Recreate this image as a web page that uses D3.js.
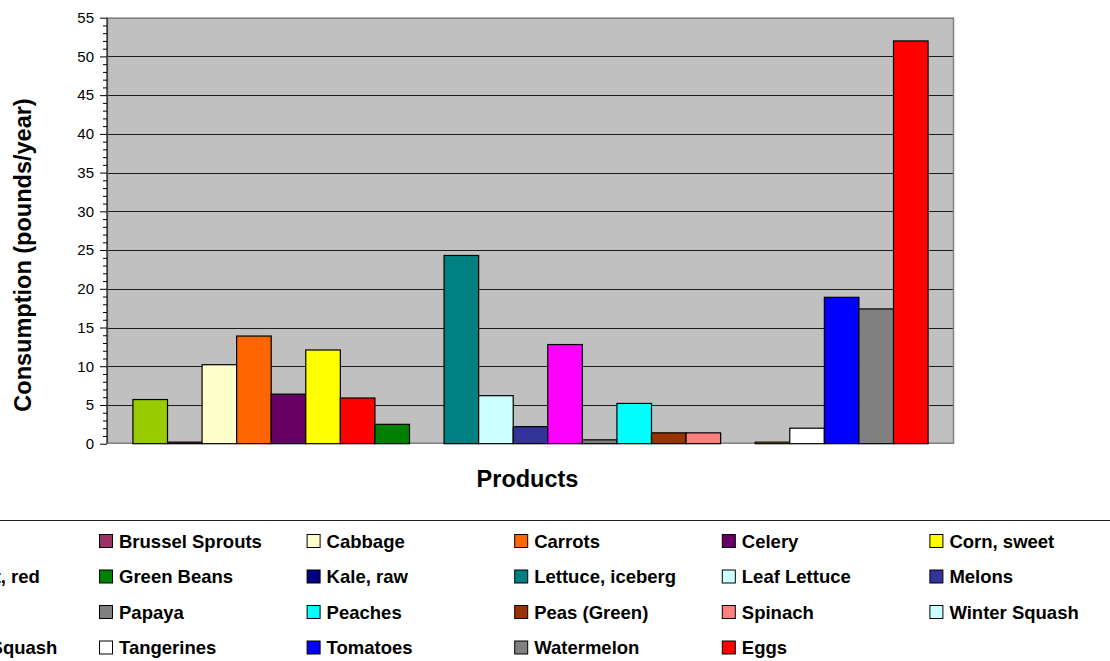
<!DOCTYPE html>
<html>
<head>
<meta charset="utf-8">
<script src="https://cdn.jsdelivr.net/npm/d3@7"></script>
<style>
  html, body { margin: 0; padding: 0; background: #fff; overflow: hidden; }
  svg { display: block; font-family: Arial, "Liberation Sans", sans-serif; }
</style>
</head>
<body>
<svg id="chart" width="1110" height="661"></svg>
<script>
// ---- data ----
const products = ["Broccoli", "Brussel Sprouts", "Cabbage", "Carrots", "Celery", "Corn, sweet",
  "Grapefruit, red", "Green Beans", "Kale, raw", "Lettuce, iceberg", "Leaf Lettuce", "Melons",
  "Onions", "Papaya", "Peaches", "Peas (Green)", "Spinach", "Winter Squash",
  "Summer Squash", "Tangerines", "Tomatoes", "Watermelon", "Eggs"];
const consumption = [5.7, 0.2, 10.2, 13.9, 6.4, 12.1,
  5.9, 2.5, null, 24.3, 6.2, 2.2,
  12.8, 0.5, 5.2, 1.4, 1.4, null,
  0.2, 2.0, 18.9, 17.4, 52.0];
const colors = ["#99CC00", "#993366", "#FFFFCC", "#FF6600", "#660066", "#FFFF00",
  "#FF0000", "#008000", "#000080", "#008080", "#CCFFFF", "#333399",
  "#FF00FF", "#808080", "#00FFFF", "#993300", "#FF8080", "#CCFFFF",
  "#FFCC00", "#FFFFFF", "#0000FF", "#808080", "#FF0000"];
const yTicks = [0, 5, 10, 15, 20, 25, 30, 35, 40, 45, 50, 55];
const yTitle = "Consumption (pounds/year)";
const xTitle = "Products";

// ---- layout ----
const svg = d3.select("#chart");
const plot = { left: 107, right: 954, top: 17.7, bottom: 443.7 };

const x = d3.scaleBand().domain(products)
  .range([plot.left, plot.right]).paddingInner(0).paddingOuter(0.75);
const y = d3.scaleLinear().domain([0, 55]).range([plot.bottom, plot.top]);
const color = d3.scaleOrdinal().domain(products).range(colors);

// plot background
svg.append("rect")
  .attr("x", plot.left).attr("y", plot.top)
  .attr("width", plot.right - plot.left).attr("height", plot.bottom - plot.top)
  .attr("fill", "#C0C0C0");

// gridlines
svg.append("g").selectAll("line").data(yTicks.filter(d => d > 0 && d < 55)).join("line")
  .attr("x1", plot.left).attr("x2", plot.right)
  .attr("y1", d => Math.round(y(d)) + 0.5).attr("y2", d => Math.round(y(d)) + 0.5)
  .attr("stroke", "#000").attr("stroke-width", 1).attr("opacity", 0.85);

// plot border
svg.append("rect")
  .attr("x", plot.left + 0.5).attr("y", plot.top + 0.5)
  .attr("width", plot.right - plot.left - 1).attr("height", plot.bottom - plot.top - 1)
  .attr("fill", "none").attr("stroke", "#808080").attr("stroke-width", 1.5);

// bars
const data = products.map((p, i) => ({ name: p, value: consumption[i] }));
svg.append("g").selectAll("rect").data(data.filter(d => d.value != null)).join("rect")
  .attr("x", d => x(d.name))
  .attr("y", d => y(d.value))
  .attr("width", x.bandwidth())
  .attr("height", d => y(0) - y(d.value))
  .attr("fill", d => color(d.name))
  .attr("stroke", "#000").attr("stroke-width", 1.2);

// y axis with minor ticks
const minor = d3.range(0, 56, 1).filter(d => d % 5 !== 0);
const gAxis = svg.append("g").attr("transform", `translate(${plot.left},0)`);
gAxis.append("g")
  .call(d3.axisLeft(y).tickValues(minor).tickSize(4).tickFormat(""))
  .call(g => g.select(".domain").remove())
  .call(g => g.selectAll("line").attr("stroke", "#000"));
gAxis.append("g")
  .call(d3.axisLeft(y).tickValues(yTicks).tickSize(7).tickPadding(6).tickFormat(d3.format("d")))
  .call(g => g.select(".domain").attr("stroke", "#000").attr("d", `M0,${plot.top}V${plot.bottom}`))
  .call(g => g.selectAll("line").attr("stroke", "#000"))
  .call(g => g.selectAll("text").attr("font-size", 15).attr("fill", "#000")
    .attr("font-family", "Arial, 'Liberation Sans', sans-serif"));

// axis titles
svg.append("text")
  .attr("transform", `translate(31,255) rotate(-90)`)
  .attr("text-anchor", "middle")
  .attr("font-size", 23.5).attr("font-weight", "bold")
  .text(yTitle);
svg.append("text")
  .attr("x", 527.5).attr("y", 487.3)
  .attr("text-anchor", "middle")
  .attr("font-size", 23.5).attr("font-weight", "bold")
  .text(xTitle);

// legend
svg.append("line")
  .attr("x1", 0).attr("x2", 1110).attr("y1", 520.5).attr("y2", 520.5)
  .attr("stroke", "#222").attr("stroke-width", 1.2);
const colStep = 207.6, col0 = 99 - colStep;
const rowBase = [547.5, 583, 618.5, 654];
const lg = svg.append("g").selectAll("g").data(data).join("g")
  .attr("transform", (d, i) => `translate(${col0 + (i % 6) * colStep},${rowBase[Math.floor(i / 6)]})`);
lg.append("rect")
  .attr("x", 0.5).attr("y", -13).attr("width", 13).attr("height", 13)
  .attr("fill", d => color(d.name)).attr("stroke", "#000").attr("stroke-width", 1);
lg.append("text")
  .attr("x", 20).attr("y", 0)
  .attr("font-size", 18.5).attr("font-weight", "bold")
  .text(d => d.name);
</script>
</body>
</html>
